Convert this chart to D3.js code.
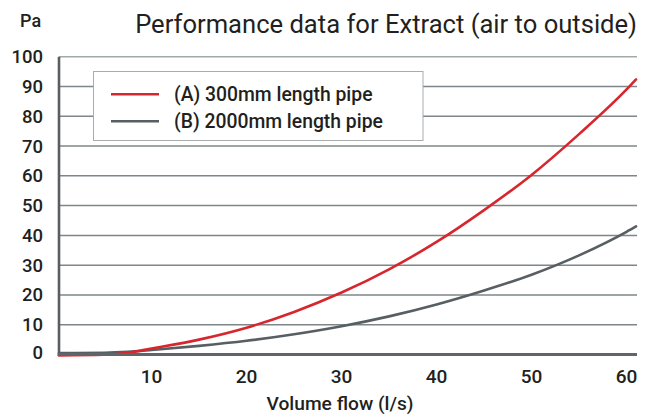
<!DOCTYPE html>
<html>
<head>
<meta charset="utf-8">
<script src="https://cdn.jsdelivr.net/npm/d3@7"></script>
<style>
  html, body { margin: 0; padding: 0; background: #fff; }
  text { font-family: Roboto, "Noto Sans", sans-serif; fill: #231f20; font-weight: 500; }
</style>
</head>
<body>
<svg id="chart" width="651" height="416"></svg>
<script>
// ---- data ----
const title = "Performance data for Extract (air to outside)";
const yUnit = "Pa";
const xTitle = "Volume flow (l/s)";
const xTicks = [10, 20, 30, 40, 50, 60];
const yTicks = [0, 10, 20, 30, 40, 50, 60, 70, 80, 90, 100];
const seriesNames = ["(A) 300mm length pipe", "(B) 2000mm length pipe"];
const flow =  [0.25, 5,    7.5, 10,  15,  20,  25,   30,   35,   40,   45,   50,   55,   60,   61];
const pipeA = [-0.3, -0.1, 0.6, 2.0, 5.0, 9.0, 14.3, 20.8, 28.6, 37.8, 48.5, 60.3, 74.0, 89.0, 92.4];
const pipeB = [0.5,  0.6,  0.9, 1.5, 2.9, 4.6, 6.8,  9.5,  12.8, 16.8, 21.5, 26.8, 33.3, 41.2, 43.0];
const colors = ["#d7262e", "#575f63"];

// ---- layout ----
const svg = d3.select("#chart");
const x = d3.scaleLinear().domain([0.25, 61.1]).range([59, 637]);
const y = d3.scaleLinear().domain([0, 100]).range([354.5, 56.7]);

function fit(sel, size, target) {
  sel.attr("font-size", size);
  const w = sel.node().getComputedTextLength();
  sel.attr("font-size", size * target / w);
}

// gridlines
svg.append("g").selectAll("line").data(yTicks.filter(d => d > 0)).join("line")
  .attr("x1", x(0.25)).attr("x2", x(61.1))
  .attr("y1", d => y(d)).attr("y2", d => y(d))
  .attr("stroke", d => d === 100 ? "#a3a8ab" : "#7f8689").attr("stroke-width", 1.5);

// y tick labels
svg.append("g").selectAll("text").data(yTicks).join("text")
  .attr("x", 43).attr("y", d => y(d) + 6.5 - (d === 0 ? 2.5 : 0))
  .attr("text-anchor", "end").attr("font-size", 18.5)
  .text(d => d);

// x tick labels
svg.append("g").selectAll("text").data(xTicks).join("text")
  .attr("x", d => x(d)).attr("y", 383)
  .attr("text-anchor", "middle").attr("font-size", 19)
  .text(d => d);

// lines
const line = d3.line().x((d, i) => x(flow[i])).y(d => y(d)).curve(d3.curveMonotoneX);
[pipeB, pipeA].forEach((s, k) => {
  svg.append("path").datum(s)
    .attr("d", line)
    .attr("fill", "none")
    .attr("stroke", k === 0 ? colors[1] : colors[0])
    .attr("stroke-width", 2.6)
    .attr("stroke-linecap", "round");
});

// axes lines
svg.append("line").attr("x1", x(0.25)).attr("x2", x(0.25)).attr("y1", y(100)).attr("y2", y(0) + 1.5)
  .attr("stroke", "#575f63").attr("stroke-width", 2.6);
svg.append("line").attr("x1", x(0.25) - 1.3).attr("x2", x(61.1)).attr("y1", y(0)).attr("y2", y(0))
  .attr("stroke", "#5f666a").attr("stroke-width", 3);

// legend
const lg = svg.append("g");
lg.append("rect").attr("x", 93.5).attr("y", 71.5).attr("width", 329.5).attr("height", 69)
  .attr("fill", "#fff").attr("stroke", "#a8acae").attr("stroke-width", 1);
const legTexts = [];
seriesNames.forEach((n, i) => {
  const yy = 94.3 + i * 27;
  lg.append("line").attr("x1", 111).attr("x2", 159).attr("y1", yy).attr("y2", yy)
    .attr("stroke", colors[i]).attr("stroke-width", 2.6);
  legTexts.push(lg.append("text").attr("x", 174).attr("y", yy + 6.5).text(n));
});
legTexts[1].attr("font-size", 18);
const lw = legTexts[1].node().getComputedTextLength();
const lsize = 18 * 209 / lw;
legTexts.forEach(t => t.attr("font-size", lsize));

// titles
const t = svg.append("text").attr("x", 637).attr("y", 33).attr("text-anchor", "end")
  .style("font-weight", 400).text(title);
fit(t, 24, 502);

svg.append("text").attr("x", 20).attr("y", 27).attr("font-size", 18).text(yUnit);
const xt = svg.append("text").attr("x", 340).attr("y", 410).attr("text-anchor", "middle").text(xTitle);
fit(xt, 18, 147);
</script>
</body>
</html>
